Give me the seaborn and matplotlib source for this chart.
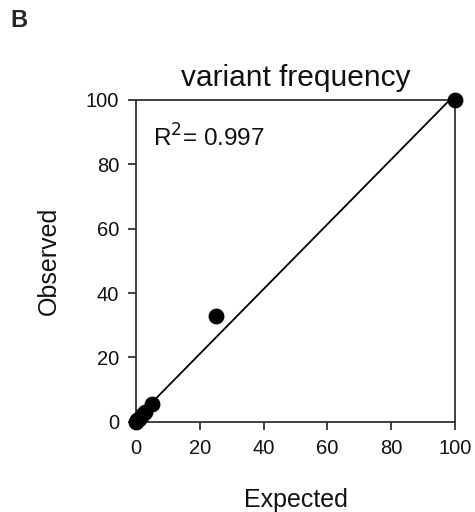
import matplotlib
matplotlib.use("Agg")
import matplotlib.pyplot as plt
import seaborn as sns
import numpy as np
import pandas as pd

expected = [0, 0.5, 1, 2, 3, 5, 25, 100]
observed = [0, 0.5, 1, 2, 3, 5.5, 33, 100]
r2_text = "0.997"
xticks = [0, 20, 40, 60, 80, 100]
yticks = [0, 20, 40, 60, 80, 100]

sns.set_theme(style="ticks")
plt.rcParams['font.family'] = ['Liberation Sans', 'DejaVu Sans']

df = pd.DataFrame({"Expected": expected, "Observed": observed})

fig = plt.figure(figsize=(4.75, 5.12), dpi=100)
ax = fig.add_axes([0.286, 0.176, 0.672, 0.629])

sns.regplot(data=df, x="Expected", y="Observed", ax=ax, ci=None, truncate=True,
            scatter_kws=dict(s=130, color="black", alpha=1, clip_on=False, zorder=3,
                             edgecolor="black", linewidths=0),
            line_kws=dict(color="black", lw=1.3))

ax.set_xlim(0, 100)
ax.set_ylim(0, 100)
ax.set_xticks(xticks)
ax.set_yticks(yticks)
ax.tick_params(labelsize=14.5, length=6, width=1.3, color="#333333", labelcolor="#111111", pad=6)
for s in ax.spines.values():
    s.set_color("#333333")
    s.set_linewidth(1.3)
ax.set_xlabel("Expected", fontsize=18, labelpad=22, color="#111111")
ax.set_ylabel("Observed", fontsize=18, labelpad=18, color="#111111")
ax.set_title("variant frequency", fontsize=21.5, pad=10, color="#111111")
ax.text(5.5, 88, r"R$^{2}$= " + r2_text, fontsize=17.5, va="center", ha="left", color="#111111")
fig.text(0.021, 0.96, "B", fontsize=17, fontweight="bold", va="center", ha="left")

fig.savefig("out.png", dpi=100)
